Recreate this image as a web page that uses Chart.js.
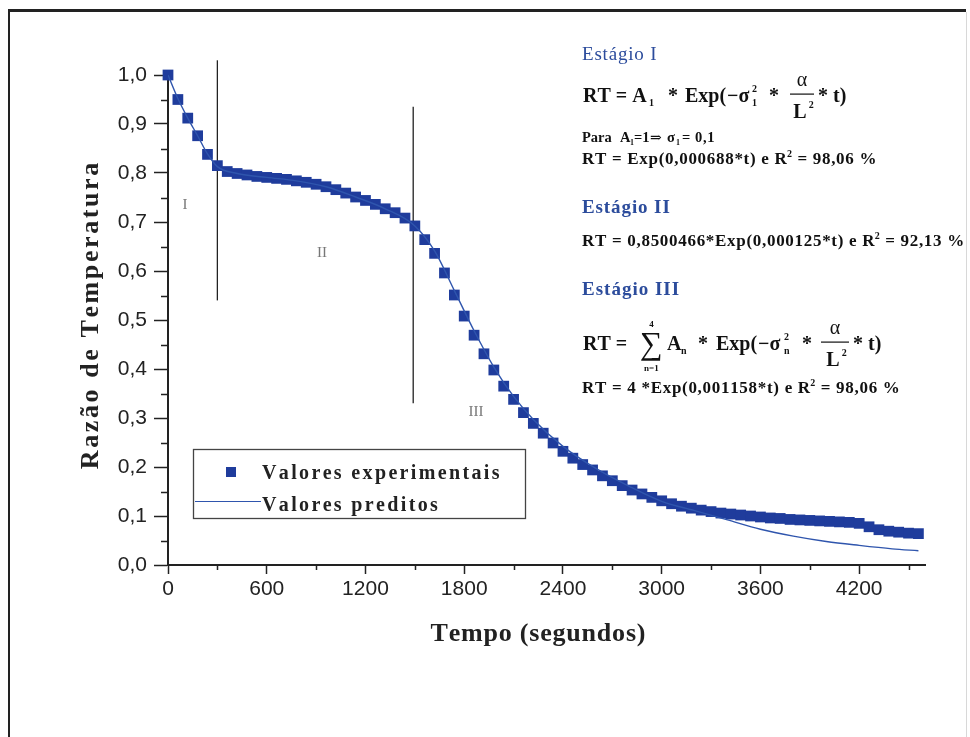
<!DOCTYPE html>
<html>
<head>
<meta charset="utf-8">
<script src="https://cdn.jsdelivr.net/npm/chart.js@4.4.0/dist/chart.umd.min.js"></script>
<style>
  html, body { margin: 0; padding: 0; background: #fff; }
</style>
</head>
<body>
<canvas id="grafico" width="970" height="737"></canvas>
<script>
// tempos (s) e razao de temperatura medida
const tempos = [0, 60, 120, 180, 240, 300, 360, 420, 480, 540, 600, 660, 720, 780, 840, 900, 960, 1020, 1080, 1140,
  1200, 1260, 1320, 1380, 1440, 1500, 1560, 1620, 1680, 1740, 1800, 1860, 1920, 1980, 2040, 2100, 2160, 2220, 2280, 2340,
  2400, 2460, 2520, 2580, 2640, 2700, 2760, 2820, 2880, 2940, 3000, 3060, 3120, 3180, 3240, 3300, 3360, 3420, 3480, 3540,
  3600, 3660, 3720, 3780, 3840, 3900, 3960, 4020, 4080, 4140, 4200, 4260, 4320, 4380, 4440, 4500, 4560];
const experimentais = [1.000, 0.950, 0.912, 0.876, 0.838, 0.815, 0.803, 0.799, 0.796, 0.793, 0.791, 0.789, 0.787, 0.784, 0.781, 0.777, 0.772, 0.766, 0.759, 0.751,
  0.744, 0.736, 0.727, 0.719, 0.708, 0.692, 0.664, 0.636, 0.596, 0.551, 0.508, 0.469, 0.431, 0.398, 0.365, 0.338, 0.311, 0.289, 0.269, 0.249,
  0.232, 0.218, 0.205, 0.194, 0.182, 0.172, 0.162, 0.153, 0.145, 0.138, 0.131, 0.125, 0.120, 0.116, 0.112, 0.109, 0.106, 0.104, 0.102, 0.100,
  0.098, 0.096, 0.095, 0.093, 0.092, 0.091, 0.090, 0.089, 0.088, 0.087, 0.085, 0.078, 0.072, 0.069, 0.067, 0.065, 0.064];

// curva predita
const temposPred = [0, 60, 120, 180, 240, 300, 420, 600, 780, 960, 1140, 1320, 1500, 1620, 1740, 1860, 1980, 2100, 2220, 2400,
  2600, 2800, 3000, 3200, 3400, 3600, 3800, 4000, 4200, 4400, 4560];
const preditos = [1.000, 0.952, 0.912, 0.876, 0.839, 0.813, 0.799, 0.791, 0.784, 0.772, 0.751, 0.727, 0.692, 0.641, 0.560, 0.478, 0.404, 0.344, 0.297, 0.242,
  0.197, 0.161, 0.130, 0.111, 0.092, 0.073, 0.059, 0.048, 0.040, 0.033, 0.029];

// linhas verticais que separam os estagios
const limitesEstagio = [300, 1490];
const limiteTopo = [1.03, 0.935];
const limiteBase = [0.54, 0.33];

const xTicks = [0, 600, 1200, 1800, 2400, 3000, 3600, 4200];
const yTicks = ['0,0', '0,1', '0,2', '0,3', '0,4', '0,5', '0,6', '0,7', '0,8', '0,9', '1,0'];

const azulMarca = '#1f3c9c';
const azulLinha = '#2f55ad';
const azulTexto = '#2c4c9c';
const serif = '"Liberation Serif", "DejaVu Serif", serif';

function pares(xs, ys) {
  return xs.map((x, i) => ({ x: x, y: ys[i] }));
}

const datasets = [
  {
    label: 'Valores preditos',
    data: pares(temposPred, preditos),
    showLine: true,
    borderColor: azulLinha,
    borderWidth: 1.4,
    pointRadius: 0,
    cubicInterpolationMode: 'monotone',
    order: 0
  },
  {
    label: 'Valores experimentais',
    data: pares(tempos, experimentais),
    pointStyle: 'rect',
    pointRadius: 7.6,
    backgroundColor: azulMarca,
    borderColor: azulMarca,
    borderWidth: 0,
    clip: false,
    order: 1
  }
];
limitesEstagio.forEach((t, i) => {
  datasets.push({
    label: 'limite' + i,
    data: [{ x: t, y: limiteBase[i] }, { x: t, y: limiteTopo[i] }],
    showLine: true,
    borderColor: '#222',
    borderWidth: 1.3,
    pointRadius: 0,
    clip: false,
    order: 2
  });
});

function espacado(ctx, txt, x, y, esp) {
  for (const ch of txt) {
    ctx.fillText(ch, x, y);
    x += ctx.measureText(ch).width + esp;
  }
  return x;
}
function larguraEsp(ctx, txt, esp) {
  let w = 0;
  for (const ch of txt) w += ctx.measureText(ch).width + esp;
  return w - esp;
}

// texto em posicao fixa
function txt(ctx, s, x, y, size, bold, esp) {
  ctx.font = (bold === false ? '' : 'bold ') + size + 'px ' + serif;
  return espacado(ctx, s, x, y, esp || 0);
}

// linha de texto com R ao quadrado
function linhaR2(ctx, antes, depois, x, y) {
  x = txt(ctx, antes, x, y, 17, true, 0.7);
  txt(ctx, '2', x - 0.5, y - 7, 10);
  txt(ctx, depois, x + 5, y, 17, true, 0.7);
}

function fracao(ctx, x, y, w) {
  ctx.font = '20px ' + serif;
  const wa = ctx.measureText('α').width;
  ctx.fillText('α', x + (w - wa) / 2, y - 16);
  ctx.fillRect(x, y - 8.5, w, 1.2);
  ctx.font = 'bold 20px ' + serif;
  const wl = ctx.measureText('L').width;
  ctx.fillText('L', x + (w - wl) / 2 - 2, y + 16);
  ctx.font = 'bold 10px ' + serif;
  ctx.fillText('2', x + (w + wl) / 2, y + 6);
}

const enfeites = {
  id: 'enfeites',
  afterDraw(chart) {
    const ctx = chart.ctx;
    const sx = chart.scales.x, sy = chart.scales.y;
    ctx.save();

    // moldura
    ctx.fillStyle = '#222';
    ctx.fillRect(8, 9, 958, 3);
    ctx.fillRect(8, 9, 2, 728);
    ctx.fillStyle = '#d8d8d8';
    ctx.fillRect(966, 12, 1, 725);

    // tracos menores
    ctx.strokeStyle = '#222';
    ctx.lineWidth = 1.5;
    ctx.beginPath();
    for (let v = 0.05; v < 1; v += 0.1) {
      const py = Math.round(sy.getPixelForValue(v)) + 0.5;
      ctx.moveTo(sx.left - 7, py);
      ctx.lineTo(sx.left, py);
    }
    for (let v = 300; v < 4600; v += 600) {
      const px = Math.round(sx.getPixelForValue(v)) + 0.5;
      ctx.moveTo(px, sy.bottom);
      ctx.lineTo(px, sy.bottom + 5);
    }
    ctx.stroke();

    // titulos dos eixos
    ctx.fillStyle = '#222';
    ctx.textBaseline = 'alphabetic';
    ctx.font = 'bold 26px ' + serif;
    let tx = 'Tempo (segundos)';
    let w = larguraEsp(ctx, tx, 0.8);
    espacado(ctx, tx, 538 - w / 2, 641, 0.8);

    ctx.save();
    ctx.translate(98, 316);
    ctx.rotate(-Math.PI / 2);
    tx = 'Razão de Temperatura';
    w = larguraEsp(ctx, tx, 2.6);
    espacado(ctx, tx, -w / 2, 0, 2.6);
    ctx.restore();

    // numeros romanos dos estagios
    ctx.fillStyle = '#777';
    ctx.font = '15px ' + serif;
    ctx.textAlign = 'center';
    ctx.fillText('I', 185, 209);
    ctx.fillText('II', 322, 257);
    ctx.fillText('III', 476, 416);
    ctx.textAlign = 'left';

    // legenda
    ctx.strokeStyle = '#444';
    ctx.lineWidth = 1.3;
    ctx.strokeRect(193.5, 449.5, 332, 69);
    ctx.fillStyle = azulMarca;
    ctx.fillRect(226, 467, 10, 10);
    ctx.strokeStyle = azulLinha;
    ctx.lineWidth = 1.2;
    ctx.beginPath();
    ctx.moveTo(195, 501.5);
    ctx.lineTo(261, 501.5);
    ctx.stroke();
    ctx.fillStyle = '#222';
    txt(ctx, 'Valores experimentais', 262, 479, 20, true, 2.35);
    txt(ctx, 'Valores preditos', 262, 511, 20, true, 2.35);

    // estagios
    const x0 = 582;
    ctx.fillStyle = azulTexto;
    txt(ctx, 'Estágio I', x0, 60, 19, false, 0.8);
    txt(ctx, 'Estágio II', x0, 213, 19, true, 0.9);
    txt(ctx, 'Estágio III', x0, 295, 19, true, 1.0);

    ctx.fillStyle = '#111';
    // estagio I
    txt(ctx, 'RT = A', 583, 102, 20);
    txt(ctx, '1', 649, 106, 10);
    txt(ctx, '*', 668, 102, 20);
    txt(ctx, 'Exp(', 685, 102, 20);
    txt(ctx, '−σ', 727, 102, 20);
    txt(ctx, '1', 752, 106, 10);
    txt(ctx, '2', 752, 92, 10);
    txt(ctx, '*', 769, 102, 20);
    fracao(ctx, 790, 102, 24);
    txt(ctx, '* t)', 818, 102, 20);

    txt(ctx, 'Para', 582, 142, 14.5);
    txt(ctx, 'A', 620, 142, 14.5);
    txt(ctx, '1', 630, 145, 8);
    txt(ctx, '=1', 634, 142, 14.5);
    txt(ctx, '⇒', 650, 142, 14, false);
    txt(ctx, 'σ', 667, 142, 14.5);
    txt(ctx, '1', 676, 145, 8);
    txt(ctx, '= 0,1', 682, 142, 14.5, true, 0.6);
    linhaR2(ctx, 'RT = Exp(0,000688*t) e R', ' = 98,06 %', x0, 164);

    // estagio II
    linhaR2(ctx, 'RT = 0,8500466*Exp(0,000125*t) e R', ' = 92,13 %', x0, 246);

    // estagio III
    txt(ctx, 'RT =', 583, 350, 20);
    ctx.font = '32px ' + serif;
    const ws = ctx.measureText('∑').width;
    ctx.fillText('∑', 640, 354);
    ctx.textAlign = 'center';
    ctx.font = 'bold 9px ' + serif;
    ctx.fillText('4', 640 + ws / 2, 327);
    ctx.fillText('n=1', 640 + ws / 2, 371);
    ctx.textAlign = 'left';
    txt(ctx, 'A', 667, 350, 20);
    txt(ctx, 'n', 681, 354, 10);
    txt(ctx, '*', 698, 350, 20);
    txt(ctx, 'Exp(', 716, 350, 20);
    txt(ctx, '−σ', 758, 350, 20);
    txt(ctx, 'n', 784, 354, 10);
    txt(ctx, '2', 784, 340, 10);
    txt(ctx, '*', 802, 350, 20);
    fracao(ctx, 821, 350, 28);
    txt(ctx, '* t)', 853, 350, 20);

    linhaR2(ctx, 'RT = 4 *Exp(0,001158*t) e R', ' = 98,06 %', x0, 393);

    ctx.restore();
  }
};

const fonteTicks = { family: '"Liberation Sans", Arial, sans-serif', size: 21 };

new Chart(document.getElementById('grafico'), {
  type: 'scatter',
  data: { datasets: datasets },
  options: {
    responsive: false,
    animation: false,
    events: [],
    layout: { padding: { left: 100, right: 45, top: 75, bottom: 122 } },
    plugins: { legend: { display: false }, tooltip: { enabled: false } },
    scales: {
      x: {
        type: 'linear',
        min: 0,
        max: 4600,
        afterBuildTicks(s) { s.ticks = xTicks.map(v => ({ value: v })); },
        afterFit(s) { s.height = 50; },
        ticks: {
          font: fonteTicks,
          color: '#222',
          padding: 3,
          maxRotation: 0,
          autoSkip: false,
          callback: (v, i) => String(xTicks[i])
        },
        grid: { drawOnChartArea: false, tickLength: 9, tickColor: '#222', tickWidth: 1.5 },
        border: { color: '#222', width: 2 }
      },
      y: {
        min: 0,
        max: 1,
        afterBuildTicks(s) { s.ticks = yTicks.map((l, i) => ({ value: i / 10 })); },
        afterFit(s) { s.width = 68; },
        ticks: {
          font: fonteTicks,
          color: '#222',
          padding: 7,
          autoSkip: false,
          callback: (v, i) => yTicks[i]
        },
        grid: { drawOnChartArea: false, tickLength: 14, tickColor: '#222', tickWidth: 1.5 },
        border: { color: '#222', width: 2 }
      }
    }
  },
  plugins: [enfeites]
});
</script>
</body>
</html>
